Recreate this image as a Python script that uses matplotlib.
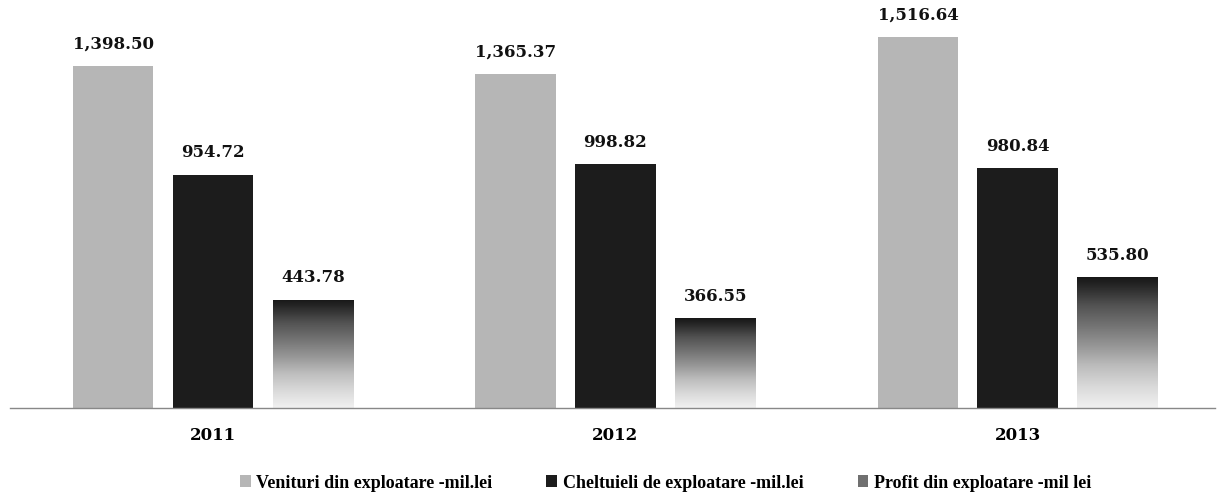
import numpy as np
import matplotlib.pyplot as plt
from matplotlib.patches import Patch

# Data
years = ['2011', '2012', '2013']
venituri = [1398.50, 1365.37, 1516.64]
cheltuieli = [954.72, 998.82, 980.84]
profit = [443.78, 366.55, 535.80]
series_names = ['Venituri din exploatare -mil.lei',
                'Cheltuieli de exploatare -mil.lei',
                'Profit din exploatare -mil lei']

plt.rcParams['font.family'] = ['DejaVu Serif']

fig = plt.figure(figsize=(12.21, 5), dpi=100)
ax = fig.add_axes([0.008, 0.184, 0.987, 0.816])

x = np.arange(len(years))
w = 0.2
off = 0.248

b1 = ax.bar(x - off, venituri, w, color='#b6b6b6', zorder=2)
b2 = ax.bar(x, cheltuieli, w, color='#1c1c1c', zorder=2)
b3 = ax.bar(x + off, profit, w, color='none', zorder=2)

# gradient fill for profit bars (dark top -> light bottom)
grad = np.linspace(0, 1, 256).reshape(-1, 1)
for bar in b3:
    bx, by = bar.get_x(), bar.get_y()
    bw, bh = bar.get_width(), bar.get_height()
    im = ax.imshow(grad, cmap='Greys', vmin=-0.15, vmax=1.1,
                   extent=[bx, bx + bw, by, by + bh], origin='lower',
                   aspect='auto', zorder=2)
    im.set_clip_path(bar)

for bars, vals in [(b1, venituri), (b2, cheltuieli), (b3, profit)]:
    for bar, v in zip(bars, vals):
        ax.text(bar.get_x() + bar.get_width() / 2, v + 55, f'{v:,.2f}',
                ha='center', va='bottom', fontsize=12, fontweight='bold',
                color='#111111')

ax.set_xlim(-0.505, 2.49)
ax.set_ylim(0, 1670)
ax.set_xticks(x)
ax.set_xticklabels(years, fontsize=12, fontweight='bold')
ax.tick_params(axis='x', length=0, pad=14)
ax.set_yticks([])
for s in ['top', 'right', 'left']:
    ax.spines[s].set_visible(False)
ax.spines['bottom'].set_color('#888888')
ax.spines['bottom'].set_linewidth(1)

handles = [Patch(facecolor='#b6b6b6'), Patch(facecolor='#1c1c1c'),
           Patch(facecolor='#707070')]
fig.legend(handles, series_names, loc='center', bbox_to_anchor=(0.545, 0.034),
           ncol=3, frameon=False, handlelength=0.6, handleheight=0.6,
           handletextpad=0.3, columnspacing=3.0,
           prop={'family': 'Liberation Serif', 'size': 13, 'weight': 'bold'})

fig.savefig('out.png', dpi=100)
